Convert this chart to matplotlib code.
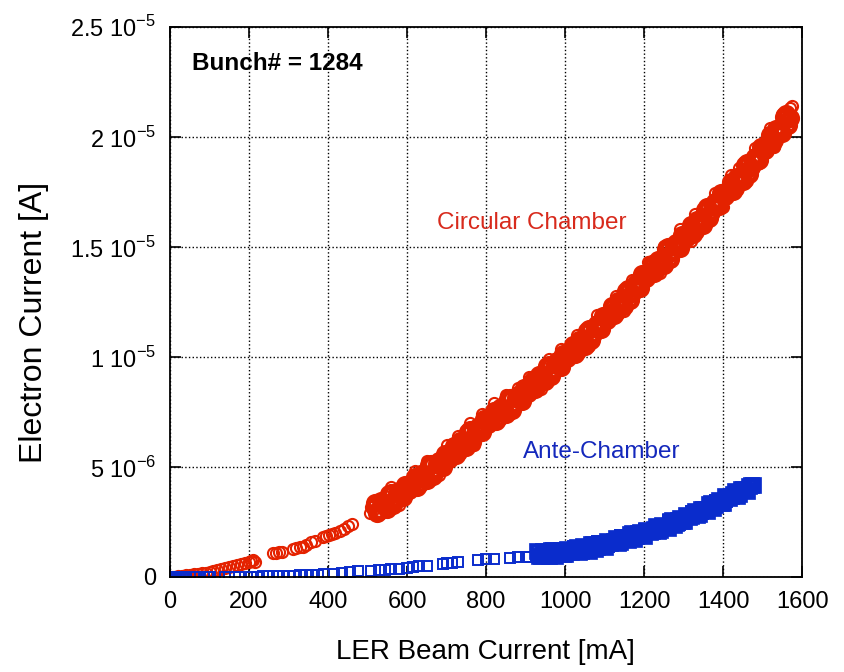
import numpy as np
import matplotlib.pyplot as plt

plt.rcParams['font.family'] = ['Liberation Sans', 'DejaVu Sans']
plt.rcParams['mathtext.fontset'] = 'custom'
plt.rcParams['mathtext.rm'] = 'Liberation Sans'

# electron current in units of 1e-6 A, beam current in mA
# circular chamber - low current part (sparse)
circ_lo_x = [0, 5, 10, 15, 20, 30, 40, 50, 60, 70, 80, 90, 100, 110, 120, 130, 140, 150,
             160, 170, 180, 190, 200, 205, 210, 215, 260, 268, 276, 284, 312, 320, 328, 336,
             345, 358, 366, 388, 395, 402, 410, 418, 430, 440, 450, 460, 505, 510, 515]
circ_lo_y = [0, 0, 0.02, 0.02, 0.04, 0.06, 0.08, 0.1, 0.12, 0.15, 0.18, 0.2, 0.24, 0.28, 0.32,
             0.38, 0.42, 0.46, 0.5, 0.54, 0.58, 0.62, 0.66, 0.72, 0.78, 0.7, 1.08, 1.1, 1.12,
             1.15, 1.25, 1.3, 1.34, 1.38, 1.45, 1.58, 1.65, 1.8, 1.85, 1.9, 1.95, 2.0, 2.1,
             2.2, 2.3, 2.4, 2.9, 3.2, 3.05]

# circular chamber - dense run (two interleaved scans)
circ_x = list(range(520, 1571, 10))
circ_y = [3.35, 3.0, 3.35, 3.1, 3.82, 3.54, 3.91, 3.63, 4.1, 4.09,
          4.53, 4.22, 4.61, 4.4, 5.14, 4.88, 5.27, 5.01, 5.5, 5.51,
          5.97, 5.68, 6.09, 5.9, 6.66, 6.42, 6.83, 6.59, 7.1, 7.09,
          7.53, 7.22, 7.61, 7.4, 8.14, 7.88, 8.27, 8.01, 8.5, 8.51,
          8.97, 8.68, 9.09, 8.9, 9.65, 9.4, 9.8, 9.55, 10.05, 10.07,
          10.54, 10.26, 10.68, 10.5, 11.28, 11.06, 11.49, 11.27, 11.8, 11.83,
          12.31, 12.04, 12.47, 12.3, 13.1, 12.9, 13.35, 13.15, 13.7, 13.73,
          14.21, 13.94, 14.37, 14.2, 14.98, 14.76, 15.19, 14.97, 15.5, 15.53,
          16.01, 15.74, 16.17, 16.0, 16.8, 16.6, 17.05, 16.85, 17.4, 17.45,
          17.95, 17.7, 18.15, 18.0, 18.82, 18.64, 19.11, 18.93, 19.5, 19.57,
          20.09, 19.86, 20.33, 20.2, 21.04, 20.88]
circ_x2 = list(range(525, 1566, 10))
circ_y2 = [2.9, 3.45, 3.3, 3.76, 3.28, 3.8, 3.67, 4.19, 3.97, 4.26,
           4.1, 4.69, 4.58, 5.07, 4.61, 5.15, 5.04, 5.58, 5.38, 5.69,
           5.55, 6.16, 6.07, 6.58, 6.14, 6.7, 6.61, 7.17, 6.97, 7.26,
           7.1, 7.69, 7.58, 8.07, 7.61, 8.15, 8.04, 8.58, 8.38, 8.69,
           8.55, 9.16, 9.07, 9.58, 9.13, 9.68, 9.58, 10.13, 9.94, 10.26,
           10.13, 10.75, 10.67, 11.19, 10.77, 11.35, 11.28, 11.86, 11.69, 12.02,
           11.9, 12.53, 12.46, 13.0, 12.6, 13.2, 13.15, 13.75, 13.59, 13.92,
           13.8, 14.43, 14.36, 14.89, 14.47, 15.05, 14.98, 15.56, 15.39, 15.72,
           15.6, 16.23, 16.16, 16.7, 16.3, 16.9, 16.85, 17.45, 17.3, 17.65,
           17.55, 18.2, 18.15, 18.71, 18.33, 18.95, 18.92, 19.54, 19.41, 19.78,
           19.7, 20.37, 20.34, 20.92, 20.56]
# stray points along the edges of the band
circ_out_x = [560, 620, 650, 700, 730, 760, 790, 820, 850, 880, 910, 960, 990, 1030, 1080,
              1130, 1170, 1210, 1250, 1290, 1330, 1380, 1420, 1440, 1480, 1520, 1550, 1570,
              1575, 580, 680, 770, 940, 1060, 1150, 1240, 1320, 1400, 1460, 1530]
circ_out_y = [4.07, 4.83, 5.25, 6.0, 6.43, 7.0, 7.39, 7.9, 8.25, 8.6, 9.11, 9.9, 10.35,
              11.01, 11.89, 12.79, 13.5, 14.33, 15.05, 15.8, 16.49, 17.45, 18.25, 18.6,
              19.51, 20.39, 21.05, 21.3, 21.4, 3.26, 4.62, 6.02, 8.54, 10.48, 12.1, 13.82,
              15.26, 16.8, 18.02, 19.56]

# ante-chamber - sparse part
ante_lo_x = [0, 5, 10, 15, 20, 25, 30, 35, 40, 65, 75, 85, 95, 100, 140, 150, 165, 175,
             205, 220, 235, 250, 260, 270, 285, 300, 315, 330, 345, 360, 375, 390, 415, 435,
             455, 475, 510, 530, 545, 560, 580, 600, 615, 630, 650, 690, 700, 715, 730,
             780, 800, 820, 860, 880, 900, 910]
ante_lo_y = [0, 0, 0, 0, 0, 0, 0, 0, 0, 0, 0, 0, 0, 0, 0, 0.01, 0.01, 0.01,
             0.02, 0.02, 0.03, 0.03, 0.04, 0.04, 0.05, 0.05, 0.06, 0.08, 0.09, 0.1, 0.11, 0.12,
             0.15, 0.17, 0.22, 0.25, 0.28, 0.3, 0.33, 0.35, 0.38, 0.42, 0.45, 0.48, 0.52,
             0.6, 0.62, 0.64, 0.66, 0.78, 0.8, 0.82, 0.88, 0.9, 0.92, 0.93]

# ante-chamber - dense run (two interleaved scans)
ante_x = list(range(930, 1471, 10)) + [1477]
ante_y = [1.17, 0.96, 1.11, 0.95, 1.24, 1.07, 1.21, 1.03, 1.23, 1.19,
          1.36, 1.17, 1.33, 1.2, 1.52, 1.37, 1.54, 1.38, 1.6, 1.58,
          1.77, 1.6, 1.78, 1.66, 1.99, 1.85, 2.03, 1.88, 2.11, 2.1,
          2.3, 2.14, 2.33, 2.23, 2.58, 2.46, 2.66, 2.53, 2.78, 2.79,
          3.01, 2.87, 3.08, 3.0, 3.37, 3.27, 3.49, 3.38, 3.64, 3.66,
          3.89, 3.76, 3.98, 3.91, 4.2, 4.18]
ante_x2 = list(range(935, 1466, 10))
ante_y2 = [0.94, 1.17, 1.06, 1.24, 0.97, 1.18, 1.06, 1.29, 1.15, 1.25,
           1.14, 1.39, 1.29, 1.5, 1.26, 1.49, 1.4, 1.65, 1.53, 1.65,
           1.56, 1.83, 1.75, 1.97, 1.74, 1.98, 1.9, 2.15, 2.04, 2.17,
           2.09, 2.37, 2.31, 2.55, 2.34, 2.6, 2.54, 2.81, 2.72, 2.87,
           2.81, 3.11, 3.07, 3.33, 3.14, 3.42, 3.38, 3.67, 3.59, 3.75,
           3.7, 4.01, 3.97, 4.14]
ante_edge_x = [1020, 1080, 1140, 1200, 1260, 1320, 1380, 1430,
               1050, 1110, 1170, 1230, 1290, 1350, 1410]
ante_edge_y = [1.41, 1.62, 1.9, 2.2, 2.57, 3.01, 3.52, 3.97,
               1.1, 1.35, 1.65, 1.98, 2.38, 2.85, 3.39]

xticks = [0, 200, 400, 600, 800, 1000, 1200, 1400, 1600]
yticks = [0, 5e-6, 1e-5, 1.5e-5, 2e-5, 2.5e-5]
ytick_labels = ['0', '5 10$^{-6}$', '1 10$^{-5}$', '1.5 10$^{-5}$', '2 10$^{-5}$', '2.5 10$^{-5}$']

red = '#e42200'
blue = '#0a2ccc'

fig = plt.figure(figsize=(8.45, 6.72), dpi=100)
ax = fig.add_axes([0.2012, 0.1414, 0.748, 0.8185])

# red circles: thin rings for isolated points, heavier for the overlapping run
ax.plot(circ_x + circ_x2, np.array(circ_y + circ_y2) * 1e-6,
        'o', ms=10.0, mfc='none', mec=red, mew=3.8, linestyle='none')
ax.plot(circ_lo_x + circ_out_x, np.array(circ_lo_y + circ_out_y) * 1e-6,
        'o', ms=8.0, mfc='none', mec=red, mew=1.5, linestyle='none')

ax.plot(ante_x + ante_x2, np.array(ante_y + ante_y2) * 1e-6,
        's', ms=8.6, mfc='none', mec=blue, mew=3.4, linestyle='none')
ax.plot(ante_lo_x + ante_edge_x, np.array(ante_lo_y + ante_edge_y) * 1e-6,
        's', ms=7.6, mfc='none', mec=blue, mew=1.4, linestyle='none')

ax.set_xlim(0, 1600)
ax.set_ylim(0, 2.5e-5)
ax.set_xticks(xticks)
ax.set_yticks(yticks)
ax.set_yticklabels(ytick_labels)
ax.grid(True, color='black', linestyle=':', linewidth=1)
ax.tick_params(direction='in', length=8, width=1.2, top=True, right=True,
               labelsize=17, pad=10)
for s in ax.spines.values():
    s.set_linewidth(1.3)

ax.text(0.035, 0.934, 'Bunch# = 1284', transform=ax.transAxes, fontsize=17.5,
        fontweight='bold', va='center')
ax.text(676, 1.61e-5, 'Circular Chamber', color='#d82a1c', fontsize=17.5, va='center')
ax.text(894, 5.68e-6, 'Ante-Chamber', color='#1428bc', fontsize=17.5, va='center')

fig.text(0.575, 0.03, 'LER Beam Current [mA]', fontsize=20, ha='center', va='center')
fig.text(0.04, 0.52, 'Electron Current [A]', fontsize=23, ha='center', va='center',
         rotation=90)

fig.savefig('out.png', dpi=100)
